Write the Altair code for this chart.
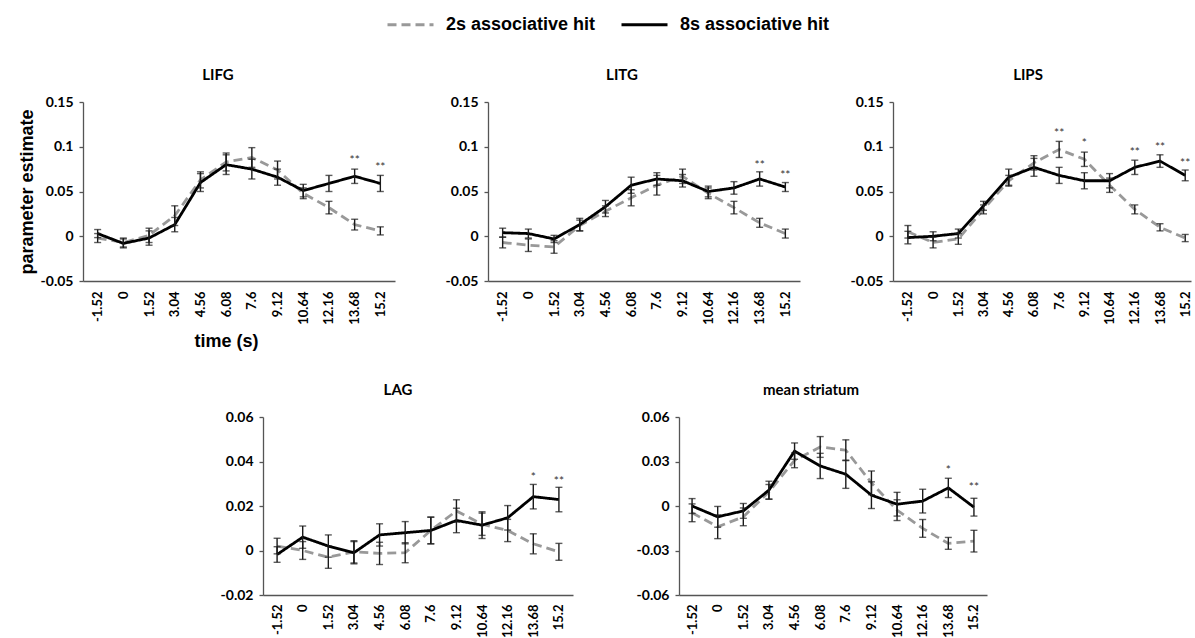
import altair as alt
import pandas as pd

times = ["-1.52", "0", "1.52", "3.04", "4.56", "6.08", "7.6", "9.12", "10.64", "12.16", "13.68", "15.2"]
SERIES = ["2s associative hit", "8s associative hit"]

# LIFG
lifg_2s = [-0.002, -0.007, 0.001, 0.023, 0.063, 0.083, 0.088, 0.074, 0.048, 0.032, 0.013, 0.006]
lifg_2s_err = [0.005, 0.005, 0.008, 0.011, 0.009, 0.010, 0.011, 0.010, 0.006, 0.007, 0.006, 0.0045]
lifg_8s = [0.003, -0.008, -0.002, 0.013, 0.060, 0.080, 0.075, 0.066, 0.051, 0.059, 0.067, 0.059]
lifg_8s_err = [0.0045, 0.005, 0.008, 0.008, 0.010, 0.011, 0.011, 0.009, 0.007, 0.009, 0.008, 0.009]
lifg_star_t = ["13.68", "15.2"]
lifg_star_txt = ["**", "**"]
lifg_star_y = [0.088, 0.081]

# LITG
litg_2s = [-0.007, -0.010, -0.012, 0.012, 0.028, 0.043, 0.057, 0.067, 0.048, 0.032, 0.015, 0.003]
litg_2s_err = [0.006, 0.007, 0.007, 0.006, 0.006, 0.009, 0.011, 0.008, 0.006, 0.007, 0.005, 0.005]
litg_8s = [0.004, 0.003, -0.003, 0.013, 0.033, 0.057, 0.064, 0.062, 0.050, 0.054, 0.064, 0.055]
litg_8s_err = [0.005, 0.005, 0.004, 0.007, 0.007, 0.009, 0.007, 0.007, 0.006, 0.007, 0.008, 0.005]
litg_star_t = ["13.68", "15.2"]
litg_star_txt = ["**", "**"]
litg_star_y = [0.0825, 0.072]

# LIPS
lips_2s = [0.005, -0.007, -0.003, 0.030, 0.062, 0.082, 0.097, 0.086, 0.057, 0.030, 0.010, -0.002]
lips_2s_err = [0.007, 0.006, 0.006, 0.005, 0.006, 0.008, 0.009, 0.008, 0.008, 0.005, 0.004, 0.004]
lips_8s = [-0.0015, 0.0, 0.003, 0.034, 0.066, 0.077, 0.068, 0.062, 0.062, 0.077, 0.084, 0.068]
lips_8s_err = [0.007, 0.005, 0.005, 0.005, 0.009, 0.010, 0.009, 0.009, 0.008, 0.008, 0.007, 0.006]
lips_star_t = ["7.6", "9.12", "12.16", "13.68", "15.2"]
lips_star_txt = ["**", "*", "**", "**", "**"]
lips_star_y = [0.1186, 0.107, 0.0978, 0.103, 0.0848]

# LAG
lag_2s = [0.002, 0.0, -0.003, -0.0006, -0.0013, -0.001, 0.009, 0.0178, 0.0118, 0.009, 0.003, -0.0006]
lag_2s_err = [0.0035, 0.004, 0.005, 0.005, 0.005, 0.0045, 0.006, 0.005, 0.005, 0.005, 0.0045, 0.0038]
lag_8s = [-0.0018, 0.006, 0.002, -0.001, 0.007, 0.008, 0.009, 0.0135, 0.0114, 0.0147, 0.0242, 0.0229]
lag_8s_err = [0.0035, 0.005, 0.005, 0.005, 0.005, 0.005, 0.006, 0.0055, 0.006, 0.0055, 0.0055, 0.0055]
lag_star_t = ["13.68", "15.2"]
lag_star_txt = ["*", "**"]
lag_star_y = [0.0342, 0.0327]

# mean striatum
ms_2s = [-0.0046, -0.014, -0.0073, 0.0095, 0.0308, 0.0398, 0.0376, 0.0156, -0.0028, -0.0151, -0.0252, -0.0237]
ms_2s_err = [0.006, 0.008, 0.006, 0.005, 0.005, 0.007, 0.007, 0.008, 0.007, 0.006, 0.004, 0.0073]
ms_8s = [0.0, -0.0073, -0.0033, 0.0107, 0.037, 0.027, 0.0214, 0.0073, 0.0012, 0.0033, 0.0122, -0.0008]
ms_8s_err = [0.005, 0.007, 0.005, 0.006, 0.0055, 0.0085, 0.0095, 0.009, 0.008, 0.008, 0.0065, 0.006]
ms_star_t = ["13.68", "15.2"]
ms_star_txt = ["*", "**"]
ms_star_y = [0.0264, 0.0147]

ticks_big = [-0.05, 0, 0.05, 0.1, 0.15]
ticks_lag = [-0.02, 0, 0.02, 0.04, 0.06]
ticks_ms = [-0.06, -0.03, 0, 0.03, 0.06]

LEGEND = alt.Legend(
    title=None, orient="none", legendX=303, legendY=-102, direction="horizontal",
    symbolType="stroke", symbolSize=2116, symbolStrokeWidth=3,
    labelFont="Liberation Sans", labelFontSize=18, labelFontWeight="bold",
    labelColor="#000000", labelOffset=11, columnPadding=19, padding=0,
)


def panel(name, v2, e2, v8, e8, st_t, st_txt, st_y, yticks, width, height, pad,
          align=0.5, ytitle=None, xtitle=None, title_dx=0, label_pad=10):
    rows = []
    for i, t in enumerate(times):
        rows.append(dict(t=t, series=SERIES[0], v=v2[i], lo=v2[i] - e2[i], hi=v2[i] + e2[i]))
        rows.append(dict(t=t, series=SERIES[1], v=v8[i], lo=v8[i] - e8[i], hi=v8[i] + e8[i]))
    df = pd.DataFrame(rows)
    sdf = pd.DataFrame({"t": st_t, "star": st_txt, "sy": st_y})

    xscale = alt.Scale(type="point", padding=pad, align=align)
    yscale = alt.Scale(domain=[yticks[0], yticks[-1]], nice=False, zero=False)
    xaxis_kw = dict(title=xtitle, labelAngle=270, ticks=False, labelPadding=label_pad,
                    minExtent=42, maxExtent=42, titlePadding=9)
    if xtitle is not None:
        xaxis_kw["titleX"] = 143
    xaxis = alt.Axis(**xaxis_kw)
    yaxis = alt.Axis(title=ytitle, values=yticks, tickSize=4, labelPadding=6,
                     labelExpr="replace(format(datum.value, '~g'), '\u2212', '-')",
                     titlePadding=4)
    X = alt.X("t:O", sort=times, scale=xscale, axis=xaxis)

    base = alt.Chart(df)
    lines = base.mark_line(strokeWidth=2.8).encode(
        x=X,
        y=alt.Y("v:Q", scale=yscale, axis=yaxis),
        color=alt.Color("series:N", scale=alt.Scale(domain=SERIES, range=["#999999", "#000000"]),
                        legend=LEGEND),
        strokeDash=alt.StrokeDash("series:N",
                                  scale=alt.Scale(domain=SERIES, range=[[9, 5], [1, 0]]),
                                  legend=LEGEND),
    )
    bars = base.mark_errorbar(ticks=True, size=7, thickness=1.4, color="#1a1a1a").encode(
        x=X,
        y=alt.Y("lo:Q", scale=yscale, axis=yaxis),
        y2="hi:Q",
    )
    stars = alt.Chart(sdf).mark_text(font="Lato", fontSize=12, color="#333333",
                                     baseline="middle", dy=3).encode(
        x=X,
        y=alt.Y("sy:Q", scale=yscale, axis=yaxis),
        text="star:N",
    )
    return alt.layer(lines, bars, stars).properties(
        width=width, height=height,
        title=alt.TitleParams(text=name, font="Lato", fontSize=15, fontWeight="bold",
                              color="#000000", offset=12, dx=title_dx, anchor="middle"),
    )


p1 = panel("LIFG", lifg_2s, lifg_2s_err, lifg_8s, lifg_8s_err,
           lifg_star_t, lifg_star_txt, lifg_star_y, ticks_big, 312, 179, 0.57,
           ytitle="parameter estimate", xtitle="time (s)", title_dx=-21)
p2 = panel("LITG", litg_2s, litg_2s_err, litg_8s, litg_8s_err,
           litg_star_t, litg_star_txt, litg_star_y, ticks_big, 312, 179, 0.57, title_dx=-22)
p3 = panel("LIPS", lips_2s, lips_2s_err, lips_8s, lips_8s_err,
           lips_star_t, lips_star_txt, lips_star_y, ticks_big, 298, 179, 0.41,
           align=0.72, title_dx=-14)
p4 = panel("LAG", lag_2s, lag_2s_err, lag_8s, lag_8s_err,
           lag_star_t, lag_star_txt, lag_star_y, ticks_lag, 310, 178, 0.55, label_pad=9,
           title_dx=-20)
p5 = panel("mean striatum", ms_2s, ms_2s_err, ms_8s, ms_8s_err,
           ms_star_t, ms_star_txt, ms_star_y, ticks_ms, 308, 178, 0.51, label_pad=9,
           title_dx=-22)

spacer = alt.Chart(pd.DataFrame({"a": [0]})).mark_point(opacity=0).properties(
    width=74, height=178, view=alt.ViewBackground(fill="#ffffff", strokeWidth=0)
)

row1 = alt.hconcat(p1, p2, p3, spacing=50)
row2 = alt.hconcat(spacer, p4, p5, spacing=63)

chart = alt.vconcat(row1, row2, spacing=33).properties(
    padding={"left": 18, "top": 0, "right": 0, "bottom": 0}
).configure_view(strokeWidth=0).configure_axis(
    labelFont="Lato", labelFontWeight="bold", labelColor="#000000",
    domainColor="#555555", domainWidth=1.3, tickColor="#555555", tickWidth=1.3, grid=False,
    titleFont="Liberation Sans", titleFontWeight="bold", titleFontSize=18, titleColor="#000000",
).configure_axisX(labelFontSize=13).configure_axisY(labelFontSize=14)

chart.save("out.html", embed_options={"renderer": "svg", "actions": False})
